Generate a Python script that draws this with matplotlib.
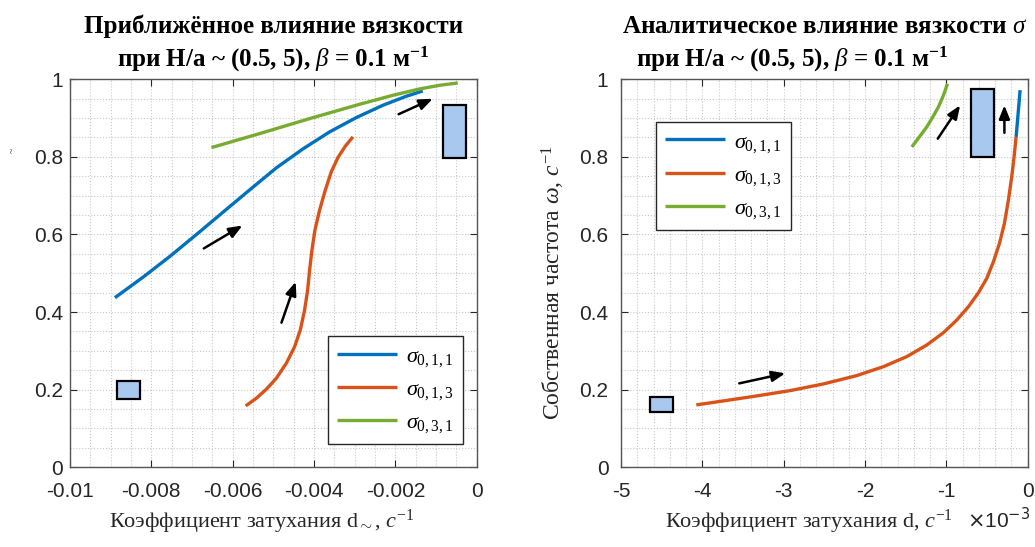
import numpy as np
import matplotlib
matplotlib.use("Agg")
import matplotlib.pyplot as plt
from matplotlib.patches import Rectangle

plt.rcParams['font.family'] = ['Liberation Sans', 'DejaVu Sans']
plt.rcParams['mathtext.fontset'] = 'custom'
plt.rcParams['mathtext.rm'] = 'Liberation Serif'
plt.rcParams['mathtext.it'] = 'Liberation Serif:italic'
plt.rcParams['mathtext.bf'] = 'Liberation Serif:bold'

"""data: left panel (approximate influence)"""
l_d011 = [-0.008895, -0.0082, -0.007545, -0.00689, -0.006236, -0.005581, -0.004926,
          -0.004272, -0.003617, -0.002962, -0.002308, -0.001735, -0.001326]
l_w011 = [0.4369, 0.4901, 0.5433, 0.5999, 0.6575, 0.7150, 0.7717,
          0.8206, 0.8644, 0.9013, 0.9330, 0.9562, 0.9700]

l_d013 = [-0.005679, -0.005417, -0.005172, -0.004926, -0.004681, -0.004476, -0.004337,
          -0.004231, -0.004157, -0.004108, -0.004051, -0.003977, -0.003863, -0.003723,
          -0.003576, -0.003412, -0.003232, -0.003044]
l_w013 = [0.1579, 0.1777, 0.2009, 0.2292, 0.2678, 0.3107, 0.3536,
          0.4052, 0.4567, 0.5082, 0.5597, 0.6112, 0.6627, 0.7142,
          0.7614, 0.7983, 0.8275, 0.8515]

l_d031 = [-0.006522, -0.005335, -0.004108, -0.002881, -0.002062, -0.001408,
          -0.000917, -0.000467]
l_w031 = [0.8240, 0.8601, 0.8987, 0.9356, 0.9588, 0.9751, 0.9845, 0.9906]

"""data: right panel (analytic influence), d in 1e-3 units"""
r_d011 = [-0.143, -0.094]
r_w011 = [0.8515, 0.972]

r_d013 = [-4.0745, -3.739, -3.329, -2.920, -2.510, -2.101, -1.773, -1.487, -1.241,
          -1.036, -0.872, -0.729, -0.606, -0.504, -0.422, -0.348, -0.287, -0.238,
          -0.197, -0.168, -0.143]
r_w013 = [0.1605, 0.1708, 0.1837, 0.1974, 0.2146, 0.2361, 0.2592, 0.2850, 0.3150,
          0.3468, 0.3794, 0.4137, 0.4498, 0.4867, 0.5296, 0.5768, 0.6283, 0.6884,
          0.7485, 0.8000, 0.8515]

r_d031 = [-1.425, -1.323, -1.241, -1.167, -1.098, -1.036, -0.987]
r_w031 = [0.8258, 0.8541, 0.8773, 0.9030, 0.9288, 0.9588, 0.9888]

# annotation marks: arrows (tail, head) and boxes (x0, y0, x1, y1)
l_arrows = [((-0.00671, 0.564), (-0.00576, 0.623)),
            ((-0.0048, 0.3725), (-0.00445, 0.478)),
            ((-0.00192, 0.91), (-0.00108, 0.95))]
l_boxes = [(-0.00884, 0.176, -0.00827, 0.221),
           (-0.00083, 0.796, -0.00026, 0.9335)]
r_arrows = [((-3.546, 0.216), (-2.98, 0.242)),
            ((-1.106, 0.847), (-0.831, 0.933)),
            ((-0.287, 0.862), (-0.287, 0.933))]
r_boxes = [(-4.64, 0.141, -4.361, 0.182),
           (-0.696, 0.80, -0.413, 0.976)]

l_xticks = [-0.01, -0.008, -0.006, -0.004, -0.002, 0]
l_xlabels = ['-0.01', '-0.008', '-0.006', '-0.004', '-0.002', '0']
r_xticks = [-5, -4, -3, -2, -1, 0]
r_xlabels = ['-5', '-4', '-3', '-2', '-1', '0']
yticks = [0, 0.2, 0.4, 0.6, 0.8, 1]
ylabels = ['0', '0.2', '0.4', '0.6', '0.8', '1']

names = [r'$\sigma_{0,1,1}$', r'$\sigma_{0,1,3}$', r'$\sigma_{0,3,1}$']
colors = ['#0072BD', '#D95319', '#77AC30']
serif = ['Liberation Serif', 'DejaVu Serif']
axcol = '#555555'

fig = plt.figure(figsize=(10.35, 5.47), dpi=100)
axL = fig.add_axes([0.0676, 0.146, 0.393, 0.709])
axR = fig.add_axes([0.600, 0.146, 0.393, 0.709])


def style(ax, xt, xl, xmin, xmax, xminor, ypad):
    ax.set_xlim(xmin, xmax)
    ax.set_ylim(0, 1)
    ax.set_xticks(xt)
    ax.set_xticklabels(xl)
    ax.set_yticks(yticks)
    ax.set_yticklabels(ylabels)
    ax.set_xticks(np.arange(xmin, xmax + xminor / 2, xminor), minor=True)
    ax.set_yticks(np.arange(0, 1.001, 0.05), minor=True)
    ax.grid(True, which='both', linestyle=':', color='#c8c8c8', linewidth=0.8)
    ax.set_axisbelow(True)
    ax.tick_params(which='major', direction='in', length=5, top=True, right=True,
                   labelsize=15, labelcolor='#262626', color='#262626')
    ax.tick_params(axis='x', which='major', pad=11)
    ax.tick_params(axis='y', which='major', pad=ypad)
    ax.tick_params(which='minor', length=0)
    for s in ax.spines.values():
        s.set_color(axcol)
        s.set_linewidth(1.0)


def marks(ax, arrows, boxes):
    for (t, h) in arrows:
        ax.annotate('', xy=h, xytext=t,
                    arrowprops=dict(arrowstyle='-|>,head_length=0.8,head_width=0.32',
                                    color='black', lw=1.8, shrinkA=0, shrinkB=0))
    for (x0, y0, x1, y1) in boxes:
        ax.add_patch(Rectangle((x0, y0), x1 - x0, y1 - y0, facecolor='#a8c8f0',
                               edgecolor='black', linewidth=1.6, zorder=4))


lw = 2.4
for d, w, c, n in [(l_d011, l_w011, colors[0], names[0]),
                   (l_d013, l_w013, colors[1], names[1]),
                   (l_d031, l_w031, colors[2], names[2])]:
    axL.plot(d, w, color=c, lw=lw, label=n, solid_capstyle='butt',
             solid_joinstyle='round')
for d, w, c, n in [(r_d011, r_w011, colors[0], names[0]),
                   (r_d013, r_w013, colors[1], names[1]),
                   (r_d031, r_w031, colors[2], names[2])]:
    axR.plot(d, w, color=c, lw=lw, label=n, solid_capstyle='butt',
             solid_joinstyle='round')

style(axL, l_xticks, l_xlabels, -0.01, 0, 0.0005, 5)
style(axR, r_xticks, r_xlabels, -5, 0, 0.2, 9)
marks(axL, l_arrows, l_boxes)
marks(axR, r_arrows, r_boxes)

for ax, loc, anchor in [(axL, 'lower right', (0.966, 0.059)),
                        (axR, 'upper left', (0.086, 0.889))]:
    leg = ax.legend(loc=loc, bbox_to_anchor=anchor, fontsize=16, handlelength=2.7,
                    fancybox=False, framealpha=1, borderaxespad=0, labelspacing=0.45,
                    handletextpad=0.4, borderpad=0.4)
    leg.get_frame().set_edgecolor('#262626')
    leg.get_frame().set_linewidth(1.0)

# titles
tkw = dict(ha='center', fontsize=18, fontweight='bold', family=serif, color='black')
fig.text(0.264, 0.94, 'Приближённое влияние вязкости', va='baseline', **tkw)
fig.text(0.264, 0.878, r'при H/a ~ (0.5, 5), $\beta$ = 0.1 м$^{\mathbf{-1}}$',
         va='baseline', **tkw)
fig.text(0.797, 0.94, r'Аналитическое влияние вязкости $\sigma$', va='baseline', **tkw)
fig.text(0.765, 0.878, r'при H/a ~ (0.5, 5), $\beta$ = 0.1 м$^{\mathbf{-1}}$',
         va='baseline', **tkw)

# axis labels
lkw = dict(fontsize=16, family=serif, color='#262626')
fig.text(0.253, 0.035, r'Коэффициент затухания d$_{\sim}$, $c^{\mathit{-1}}$',
         ha='center', va='baseline', **lkw)
fig.text(0.782, 0.035, r'Коэффициент затухания d, $c^{\mathit{-1}}$',
         ha='center', va='baseline', **lkw)
fig.text(0.934, 0.035, r'$\times$10$^{-3}$', ha='left', va='baseline',
         fontsize=15, color='#262626', family=['Liberation Sans', 'DejaVu Sans'],
         math_fontfamily='dejavusans')
fig.text(0.535, 0.483, r'Собственная частота $\omega$, $c^{\mathit{-1}}$',
         rotation=90, ha='center', va='center', fontsize=17, family=serif,
         color='#262626')
fig.text(0.012, 0.725, '~', rotation=90, ha='center', va='center',
         fontsize=7, family=serif, color='#262626')

fig.savefig('out.png', dpi=100)
